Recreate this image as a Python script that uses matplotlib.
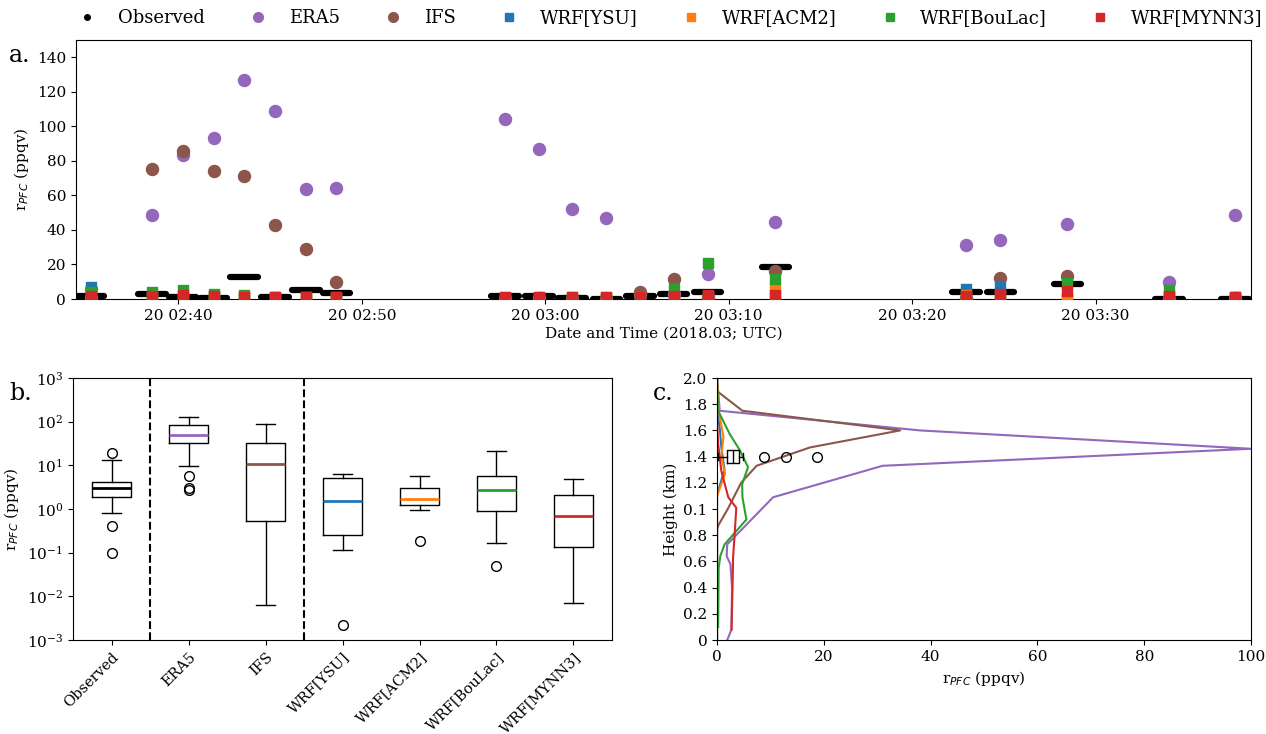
import numpy as np
import pandas as pd
import matplotlib
matplotlib.use('Agg')
import matplotlib.pyplot as plt
import matplotlib.dates as mdates
from matplotlib.lines import Line2D

plt.rcParams['font.family'] = 'DejaVu Serif'
plt.rcParams['font.size'] = 11

# ---- panel a: time series at the aircraft passes ----
times = pd.to_datetime([
    '2018-03-20 02:35:13', '2018-03-20 02:38:33', '2018-03-20 02:40:14',
    '2018-03-20 02:41:55', '2018-03-20 02:43:35', '2018-03-20 02:45:16',
    '2018-03-20 02:46:57', '2018-03-20 02:48:37', '2018-03-20 02:57:49',
    '2018-03-20 02:59:39', '2018-03-20 03:01:27', '2018-03-20 03:03:20',
    '2018-03-20 03:05:10', '2018-03-20 03:07:00', '2018-03-20 03:08:51',
    '2018-03-20 03:12:33', '2018-03-20 03:22:57', '2018-03-20 03:24:49',
    '2018-03-20 03:28:28', '2018-03-20 03:34:00', '2018-03-20 03:37:37'])
observed = [2.0, 3.0, 1.1, 0.5, 13.0, 0.9, 5.0, 3.4, 1.9, 1.9, 0.5,
            0.3, 1.9, 3.0, 4.0, 18.8, 4.0, 4.0, 8.6, 0.2, 0.1]
era5 = [5.7, 48.9, 83.6, 93.4, 126.6, 108.9, 63.9, 64.0, 104.5, 87.0, 52.3,
        47.0, 3.1, 2.7, 14.7, 44.5, 31.2, 34.1, 43.5, 9.6, 48.7]
ifs = [0.6, 75.0, 85.9, 74.4, 71.1, 43.1, 29.0, 10.0, 0.3, 0.5, 0.01,
       0.006, 3.8, 11.5, 1.2, 16.1, 0.8, 12.4, 13.4, 0.2, 0.4]
wrf_ysu = [6.7, 1.2, 1.5, 1.0, 0.8, 0.5, 0.3, 0.2, 0.12, 0.25, 0.002,
           0.2, 0.3, 1.0, 1.5, 1.2, 5.7, 6.9, 0.3, 1.0, 0.5]
wrf_acm2 = [1.5, 1.2, 1.4, 1.5, 1.0, 1.2, 1.0, 0.9, 1.2, 1.1, 0.19,
            1.0, 1.0, 1.3, 1.8, 6.3, 2.3, 2.0, 1.0, 1.5, 1.0]
wrf_boulac = [3.8, 3.8, 5.3, 2.9, 2.3, 0.9, 0.9, 0.5, 0.17, 0.05, 0.9,
              0.6, 1.0, 5.7, 21.0, 11.7, 1.0, 1.5, 9.0, 5.0, 1.0]
wrf_mynn3 = [1.5, 1.5, 2.3, 2.0, 1.4, 1.4, 1.4, 1.4, 1.3, 1.3, 1.3,
             1.3, 1.3, 1.5, 2.5, 2.5, 1.7, 2.9, 4.4, 1.9, 1.4]

labels = ['Observed', 'ERA5', 'IFS', 'WRF[YSU]', 'WRF[ACM2]',
          'WRF[BouLac]', 'WRF[MYNN3]']
colors = ['black', 'tab:purple', 'tab:brown', 'tab:blue', 'tab:orange',
          'tab:green', 'tab:red']

# ---- panel b: box statistics ----
box_med = [3.07, 49.8, 10.9, 1.51, 1.74, 2.7, 0.70]
box_q1 = [1.84, 32.0, 0.52, 0.26, 1.22, 0.92, 0.135]
box_q3 = [4.1, 86.0, 33.0, 5.1, 3.1, 5.6, 2.1]
box_lo = [0.82, 9.7, 0.0062, 0.117, 0.94, 0.17, 0.007]
box_hi = [13.3, 129.0, 87.7, 6.5, 5.8, 21.4, 4.85]
box_fliers = [[18.9, 0.41, 0.1], [5.7, 3.1, 2.7], [], [0.00225], [0.19],
              [0.05], []]

# ---- panel c: vertical profiles (value, height km) ----
prof_era5_v = [1.9, 2.7, 2.8, 2.5, 1.8, 1.9, 10.5, 31.0, 100.0, 38.0, 0.5, 0.0]
prof_era5_h = [0.0, 0.08, 0.4, 0.58, 0.64, 0.73, 1.09, 1.33, 1.46, 1.6, 1.75, 2.0]
prof_ifs_v = [0.0, 0.0, 0.3, 2.0, 4.5, 7.4, 17.4, 34.3, 4.75, 0.0, 0.0]
prof_ifs_h = [0.0, 0.85, 0.88, 1.0, 1.2, 1.33, 1.47, 1.6, 1.75, 1.9, 2.0]
prof_ysu_v = [0.0, 0.0, 1.4, 0.8, 0.5, 0.0, 0.0]
prof_ysu_h = [0.0, 1.11, 1.3, 1.47, 1.62, 1.75, 2.0]
prof_acm2_v = [0.0, 0.0, 1.5, 0.8, 1.2, 0.3, 0.0]
prof_acm2_h = [0.0, 1.1, 1.27, 1.4, 1.55, 1.75, 2.0]
prof_boulac_v = [0.2, 0.3, 0.6, 1.4, 5.5, 4.75, 4.7, 5.8, 4.25, 2.4, 0.2, 0.0]
prof_boulac_h = [0.1, 0.55, 0.64, 0.73, 0.92, 1.09, 1.19, 1.32, 1.45, 1.57, 1.75, 2.0]
prof_mynn3_v = [2.7, 2.9, 3.0, 3.3, 3.6, 2.1, 0.8, 0.2, 0.0, 0.0]
prof_mynn3_h = [0.08, 0.4, 0.63, 0.81, 1.01, 1.09, 1.29, 1.5, 1.67, 2.0]
obs_box = dict(med=2.9, q1=1.8, q3=4.2, whislo=0.2, whishi=4.8,
               fliers=[8.8, 13.0, 18.8])
height_ticks = [0, 0.2, 0.4, 0.6, 0.8, 1.0, 1.2, 1.4, 1.6, 1.8, 2.0]
height_ticklabels = ['0', '0.2', '0.4', '0.6', '0.8', '0.1', '1.2', '1.4',
                     '1.6', '1.8', '2.0']

fig = plt.figure(figsize=(12.66, 7.34), dpi=100)
ax1 = fig.add_axes([0.060, 0.5926, 0.928, 0.353])
ax2 = fig.add_axes([0.0577, 0.128, 0.4257, 0.357])
ax3 = fig.add_axes([0.5664, 0.128, 0.4218, 0.357])

# panel a
half = pd.Timedelta(seconds=45)
ax1.hlines(observed, times - half, times + half, color='k', lw=4.5,
           capstyle='round', zorder=2)
ax1.scatter(times, era5, s=75, color=colors[1], marker='o', zorder=3)
ax1.scatter(times, ifs, s=75, color=colors[2], marker='o', zorder=3)
for vals, c in zip([wrf_ysu, wrf_acm2, wrf_boulac, wrf_mynn3], colors[3:]):
    ax1.scatter(times, vals, s=45, color=c, marker='s', zorder=3)
ax1.set_xlim(pd.Timestamp('2018-03-20 02:34:25'),
             pd.Timestamp('2018-03-20 03:38:28'))
ax1.set_ylim(0, 150)
ax1.set_yticks(np.arange(0, 141, 20))
ax1.xaxis.set_major_locator(mdates.MinuteLocator(byminute=range(0, 60, 10)))
ax1.xaxis.set_major_formatter(mdates.DateFormatter('%d %H:%M'))
ax1.set_xlabel('Date and Time (2018.03; UTC)', labelpad=3)
ax1.set_ylabel('r$_{PFC}$ (ppqv)')

handles = [Line2D([], [], ls='', marker='.', color='k', markersize=8)]
handles += [Line2D([], [], ls='', marker='o', color=c, markersize=7)
            for c in colors[1:3]]
handles += [Line2D([], [], ls='', marker='s', color=c, markersize=6)
            for c in colors[3:]]
fig.legend(handles, labels, loc='upper center', bbox_to_anchor=(0.526, 1.01),
           ncol=7, frameon=False, fontsize=13, columnspacing=1.95,
           handletextpad=0.7)

# panel b
stats = []
for i in range(7):
    stats.append(dict(med=box_med[i], q1=box_q1[i], q3=box_q3[i],
                      whislo=box_lo[i], whishi=box_hi[i],
                      fliers=box_fliers[i], label=labels[i]))
bp = ax2.bxp(stats, widths=0.5, patch_artist=False,
             flierprops=dict(marker='o', markerfacecolor='none',
                             markeredgecolor='k', markersize=7))
for med, c in zip(bp['medians'], colors):
    med.set_color(c)
    med.set_linewidth(2)
ax2.set_yscale('log')
ax2.set_ylim(1e-3, 1e3)
ax2.minorticks_off()
ax2.set_yticks([1e-3, 1e-2, 1e-1, 1e0, 1e1, 1e2, 1e3])
ax2.axvline(1.5, color='k', ls='--', lw=1.5)
ax2.axvline(3.5, color='k', ls='--', lw=1.5)
ax2.set_xticks(range(1, 8))
ax2.set_xticklabels(labels, rotation=45, ha='right', rotation_mode='anchor',
                    fontsize=10.5)
ax2.set_ylabel('r$_{PFC}$ (ppqv)')

# panel c
for v, h, c in zip([prof_era5_v, prof_ifs_v, prof_ysu_v, prof_acm2_v,
                    prof_boulac_v, prof_mynn3_v],
                   [prof_era5_h, prof_ifs_h, prof_ysu_h, prof_acm2_h,
                    prof_boulac_h, prof_mynn3_h], colors[1:]):
    ax3.plot(v, h, color=c, lw=1.5)
ax3.bxp([obs_box], positions=[1.4], widths=0.1, orientation='horizontal',
        medianprops=dict(color='k'),
        flierprops=dict(marker='o', markerfacecolor='none',
                        markeredgecolor='k', markersize=7),
        manage_ticks=False)
ax3.set_xlim(0, 100)
ax3.set_ylim(0, 2.0)
ax3.set_yticks(height_ticks)
ax3.set_yticklabels(height_ticklabels)
ax3.set_xticks(np.arange(0, 101, 20))
ax3.set_xlabel('r$_{PFC}$ (ppqv)')
ax3.set_ylabel('Height (km)')

fig.text(0.007, 0.915, 'a.', fontsize=17)
fig.text(0.007, 0.455, 'b.', fontsize=17)
fig.text(0.516, 0.455, 'c.', fontsize=17)

plt.savefig('out.png', dpi=100)
